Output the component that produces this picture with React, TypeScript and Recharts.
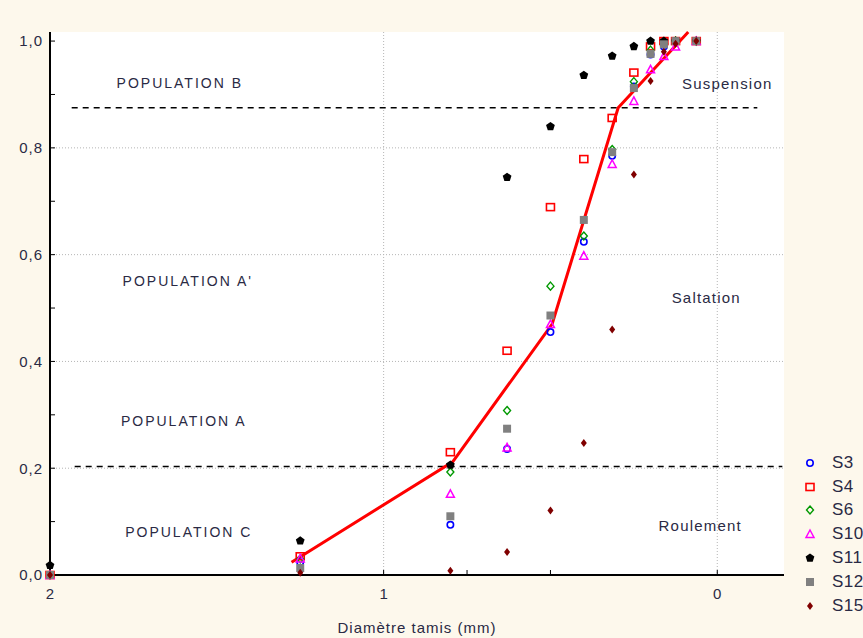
import React from 'react'
import { ComposedChart, Scatter, Line, XAxis, YAxis, CartesianGrid, ReferenceLine, ReferenceDot, Label } from 'recharts'

// sieve openings (mm) and cumulative fractions per sample
const sieves = [2, 1.25, 0.8, 0.63, 0.5, 0.4, 0.315, 0.25, 0.2, 0.16, 0.125, 0.063]

const s3 = [0, 0.024, 0.094, 0.236, 0.455, 0.624, 0.785, 0.915, 0.975, 0.99, 1.0, 1.0]
const s4 = [0, 0.035, 0.23, 0.42, 0.689, 0.779, 0.856, 0.941, 0.99, 1.0, 1.0, 1.0]
const s6 = [0, 0.03, 0.193, 0.308, 0.541, 0.635, 0.797, 0.924, 0.983, 0.995, 1.0, 1.0]
const s10 = [0, 0.031, 0.152, 0.239, 0.47, 0.598, 0.77, 0.888, 0.947, 0.972, 0.99, 1.0]
const s11 = [0.018, 0.064, 0.206, 0.745, 0.84, 0.936, 0.972, 0.99, 1.0, 1.0, 1.0, 1.0]
const s12 = [0, 0.013, 0.11, 0.274, 0.486, 0.665, 0.792, 0.912, 0.976, 0.994, 1.0, 1.0]
const s15 = [0, 0.004, 0.008, 0.043, 0.121, 0.247, 0.46, 0.75, 0.925, 0.98, 0.995, 1.0]

const seriesNames = ['S3', 'S4', 'S6', 'S10', 'S11', 'S12', 'S15']
const seriesValues = [s3, s4, s6, s10, s11, s12, s15]

// hand-drawn red fit line
const fitX = [1.276, 0.793, 0.495, 0.297, 0.087]
const fitY = [0.024, 0.212, 0.47, 0.875, 1.017]

// dashed population limits
const limitLevels = [0.875, 0.203]
const limitFrom = [1.935, 1.926]
const limitTo = [-0.12, -0.195]

const zoneLabels = ['POPULATION B', "POPULATION A'", 'POPULATION A', 'POPULATION C']
const zoneX = [1.611, 1.587, 1.599, 1.584]
const zoneY = [0.921, 0.551, 0.289, 0.081]

const modeLabels = ['Suspension', 'Saltation', 'Roulement']
const modeX = [-0.03, 0.033, 0.051]
const modeY = [0.921, 0.519, 0.092]

const xTicks = [2, 1, 0.75, 0.5, 0]
const yTicks = [0, 0.1, 0.2, 0.3, 0.4, 0.5, 0.6, 0.7, 0.8, 0.9, 1]

const markerStyles = [
  { kind: 'circle', color: '#0000ff' },
  { kind: 'square', color: '#ff0000' },
  { kind: 'diamond', color: '#009900' },
  { kind: 'triangle', color: '#ff00ff' },
  { kind: 'pentagon', color: '#000000' },
  { kind: 'block', color: '#808080' },
  { kind: 'star', color: '#800000' },
]

const FONT = '"Liberation Sans", Arial, sans-serif'
const TEXT = '#2a2a44'

function Marker({ kind, color, cx, cy }: { kind: string; color: string; cx: number; cy: number }) {
  if (cx == null || cy == null) return null
  switch (kind) {
    case 'circle':
      return <circle cx={cx} cy={cy} r={3.2} fill="none" stroke={color} strokeWidth={1.6} />
    case 'square':
      return <rect x={cx - 4} y={cy - 3.5} width={8} height={7} fill="none" stroke={color} strokeWidth={1.6} />
    case 'diamond':
      return (
        <polygon points={`${cx},${cy - 4} ${cx + 3.5},${cy} ${cx},${cy + 4} ${cx - 3.5},${cy}`}
          fill="none" stroke={color} strokeWidth={1.4} />
      )
    case 'triangle':
      return (
        <polygon points={`${cx},${cy - 4} ${cx + 4},${cy + 3.5} ${cx - 4},${cy + 3.5}`}
          fill="none" stroke={color} strokeWidth={1.5} />
      )
    case 'pentagon': {
      const pts = [0, 1, 2, 3, 4].map(k => {
        const a = -Math.PI / 2 + (k * 2 * Math.PI) / 5
        return `${cx + 4.6 * Math.cos(a)},${cy + 4.6 * Math.sin(a)}`
      })
      return <polygon points={pts.join(' ')} fill={color} />
    }
    case 'block':
      return <rect x={cx - 4} y={cy - 4} width={8} height={8} fill={color} />
    default:
      return (
        <polygon points={`${cx},${cy - 4} ${cx + 3},${cy} ${cx},${cy + 4} ${cx - 3},${cy}`} fill={color} />
      )
  }
}

const fitData = fitX.map((x, i) => ({ x, y: fitY[i] }))

export default function App() {
  return (
    <div style={{ position: 'fixed', left: 0, top: 0, width: 863, height: 638, background: '#fdf8ec', overflow: 'hidden' }}>
      <ComposedChart width={863} height={638} margin={{ top: 32, right: 79, bottom: 0, left: 0 }}>
        <CartesianGrid fill="#ffffff" stroke="#b5b5b5" strokeDasharray="1 2"
          horizontalValues={[0.2, 0.4, 0.6, 0.8]} verticalValues={[1, 0]} />
        <XAxis dataKey="x" type="number" domain={[-0.2, 2]} reversed ticks={xTicks} height={63}
          tickFormatter={(v: number) => (Number.isInteger(v) ? String(v) : '')}
          tick={{ fill: TEXT, fontSize: 15, fontFamily: FONT }}
          tickSize={-5} tickMargin={18}
          axisLine={{ stroke: '#000', strokeWidth: 2 }} tickLine={{ stroke: '#000' }}>
          <Label value="Diamètre tamis (mm)" position="insideBottom" offset={5}
            style={{ fill: TEXT, fontSize: 15, fontFamily: FONT, letterSpacing: 1 }} />
        </XAxis>
        <XAxis xAxisId="top" orientation="top" type="number" domain={[-0.2, 2]} reversed height={0}
          tick={false} tickLine={false} axisLine={{ stroke: '#000', strokeWidth: 2 }} />
        <YAxis type="number" domain={() => [0, 1]} ticks={yTicks} width={50}
          tickFormatter={(v: number) => (Math.round(v * 10) % 2 === 0 ? v.toFixed(1).replace('.', ',') : '')}
          tick={{ fill: TEXT, fontSize: 15, fontFamily: FONT, letterSpacing: 1 }}
          tickSize={-5} tickMargin={12}
          axisLine={{ stroke: '#000', strokeWidth: 2 }} tickLine={{ stroke: '#000' }} />
        <YAxis yAxisId="right" orientation="right" type="number" domain={[0, 1]} ticks={yTicks} width={0}
          tick={false} tickSize={-5}
          axisLine={{ stroke: '#000', strokeWidth: 2 }} tickLine={{ stroke: '#000' }} />

        {limitLevels.map((lv, i) => (
          <ReferenceLine key={'lim' + i} segment={[{ x: limitFrom[i], y: lv }, { x: limitTo[i], y: lv }]}
            stroke="#000" strokeWidth={1.5} strokeDasharray="6 5" ifOverflow="visible" />
        ))}

        {zoneLabels.map((t, i) => (
          <ReferenceDot key={'z' + i} x={zoneX[i]} y={zoneY[i]} r={0}
            shape={(p: any) => (
              <text x={p.cx} y={p.cy} textAnchor="middle" dominantBaseline="central"
                fill={TEXT} fontSize={14} fontFamily={FONT} letterSpacing={2}>{t}</text>
            )} />
        ))}
        {modeLabels.map((t, i) => (
          <ReferenceDot key={'m' + i} x={modeX[i]} y={modeY[i]} r={0}
            shape={(p: any) => (
              <text x={p.cx} y={p.cy} textAnchor="middle" dominantBaseline="central"
                fill={TEXT} fontSize={15} fontFamily={FONT} letterSpacing={1.2}>{t}</text>
            )} />
        ))}

        {seriesValues.map((vals, i) => (
          <Scatter key={seriesNames[i]} name={seriesNames[i]} dataKey="y"
            data={sieves.map((x, j) => ({ x, y: vals[j] }))}
            isAnimationActive={false}
            shape={(p: any) => <Marker kind={markerStyles[i].kind} color={markerStyles[i].color} cx={p.cx} cy={p.cy} />} />
        ))}

        <Line data={fitData} dataKey="y" type="linear" stroke="#ff0000" strokeWidth={3}
          dot={false} activeDot={false} isAnimationActive={false} />
      </ComposedChart>

      <div style={{ position: 'absolute', left: 801, top: 451, width: 120, fontFamily: FONT, fontSize: 17, color: TEXT }}>
        {seriesNames.map((n, i) => (
          <div key={n} style={{ height: 23.8, display: 'flex', alignItems: 'center', whiteSpace: 'nowrap' }}>
            <svg width={18} height={14} style={{ marginRight: 13, flexShrink: 0 }}>
              <Marker kind={markerStyles[i].kind} color={markerStyles[i].color} cx={9} cy={7} />
            </svg>
            <span style={{ letterSpacing: 0.5 }}>{n}</span>
          </div>
        ))}
      </div>
    </div>
  )
}
